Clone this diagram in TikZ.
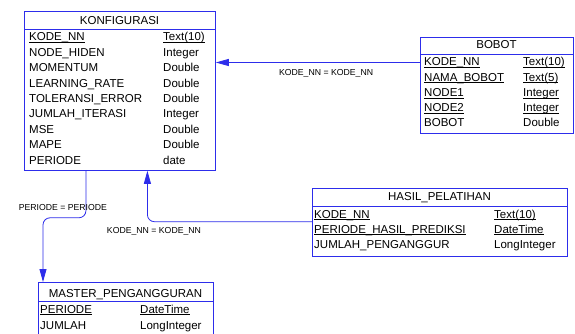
\documentclass[tikz,border=0pt]{standalone}
\usepackage{fontspec}
\setmainfont{Liberation Sans}
\usetikzlibrary{arrows.meta}
\definecolor{garisbiru}{RGB}{45,45,235}
\newcommand{\kunci}[1]{\underline{\smash{#1}}}

\begin{document}
\begin{tikzpicture}[x=1pt, y=-1pt,
  tabel/.style={draw=garisbiru, line width=0.8pt, fill=white, anchor=north west, inner sep=0pt},
  judul/.style={font=\fontsize{11.5}{13}\selectfont, anchor=base, inner sep=0pt},
  kolom/.style={font=\fontsize{11.5}{13}\selectfont, anchor=base west, inner sep=0pt},
  relasi/.style={draw=garisbiru, line width=0.8pt, -{Triangle[length=13pt, width=7pt]}},
  ket/.style={font=\fontsize{8.7}{10}\selectfont, inner sep=0pt}]
\fill[white] (0,0) rectangle (575,334);
\useasboundingbox (0,0) rectangle (575,334);
% KONFIGURASI
\node[tabel, minimum width=191pt, minimum height=159pt] (konfig) at (24,11) {};
\draw[garisbiru, line width=0.8pt] ([yshift=-18pt]konfig.north west) -- ([yshift=-18pt]konfig.north east);
\node[judul] (konfig-judul) at (119.5,24.3) {KONFIGURASI};
\foreach \nama/\tipe [count=\i from 0] in {{\kunci{KODE\_NN}}/{\kunci{Text(10)}}, NODE\_HIDEN/Integer, MOMENTUM/Double, LEARNING\_RATE/Double, TOLERANSI\_ERROR/Double, JUMLAH\_ITERASI/Integer, MSE/Double, MAPE/Double, PERIODE/date} {
  \node[kolom] (konfig-\i) at (29, 40.7+15.45*\i) {\nama};
  \node[kolom] (konfig-tipe-\i) at (163, 40.7+15.45*\i) {\tipe};
}
% BOBOT
\node[tabel, minimum width=153pt, minimum height=96pt] (bobot) at (420,37) {};
\draw[garisbiru, line width=0.8pt] ([yshift=-17pt]bobot.north west) -- ([yshift=-17pt]bobot.north east);
\node[judul] (bobot-judul) at (496.5,49) {BOBOT};
\foreach \nama/\tipe [count=\i from 0] in {{\kunci{KODE\_NN}}/{\kunci{Text(10)}}, {\kunci{NAMA\_BOBOT}}/{\kunci{Text(5)}}, {\kunci{NODE1}}/{\kunci{Integer}}, {\kunci{NODE2}}/{\kunci{Integer}}, BOBOT/Double} {
  \node[kolom] (bobot-\i) at (424, 66+15.25*\i) {\nama};
  \node[kolom] (bobot-tipe-\i) at (523, 66+15.25*\i) {\tipe};
}
% HASIL_PELATIHAN
\node[tabel, minimum width=255pt, minimum height=68pt] (hasil) at (312,188) {};
\draw[garisbiru, line width=0.8pt] ([yshift=-18.5pt]hasil.north west) -- ([yshift=-18.5pt]hasil.north east);
\node[judul] (hasil-judul) at (439.5,200) {HASIL\_PELATIHAN};
\foreach \nama/\tipe [count=\i from 0] in {{\kunci{KODE\_NN}}/{\kunci{Text(10)}}, {\kunci{PERIODE\_HASIL\_PREDIKSI}}/{\kunci{DateTime}}, JUMLAH\_PENGANGGUR/LongInteger} {
  \node[kolom] (hasil-\i) at (314, 218+15*\i) {\nama};
  \node[kolom] (hasil-tipe-\i) at (494, 218+15*\i) {\tipe};
}
% MASTER_PENGANGGURAN
\node[tabel, minimum width=175pt, minimum height=60pt] (master) at (38,282) {};
\draw[garisbiru, line width=0.8pt] ([yshift=-19pt]master.north west) -- ([yshift=-19pt]master.north east);
\node[judul] (master-judul) at (125.5,297.5) {MASTER\_PENGANGGURAN};
\foreach \nama/\tipe [count=\i from 0] in {{\kunci{PERIODE}}/{\kunci{DateTime}}, JUMLAH/LongInteger} {
  \node[kolom] (master-\i) at (40, 313+16*\i) {\nama};
  \node[kolom] (master-tipe-\i) at (140, 313+16*\i) {\tipe};
}
% relasi
\draw[relasi] ([yshift=4.5pt]bobot-0.west -| bobot.west) -- ([yshift=4.5pt]bobot-0.west -| konfig.east)
  node[ket, pos=0.46, below=7pt] {KODE\_NN = KODE\_NN};
\draw[relasi, rounded corners=7pt] ([yshift=-1.5pt]hasil-0.south -| hasil.west) -| ([xshift=27.5pt]konfig.south)
  node[ket, pos=0.48, below=5pt] {KODE\_NN = KODE\_NN};
\draw[relasi, rounded corners=7pt] ([xshift=-34pt]konfig.south)
  -- node[ket, pos=0.78, xshift=-23pt] {PERIODE = PERIODE} ++(0,47)
  -| ([xshift=5pt]master.north west);
\end{tikzpicture}
\end{document}
